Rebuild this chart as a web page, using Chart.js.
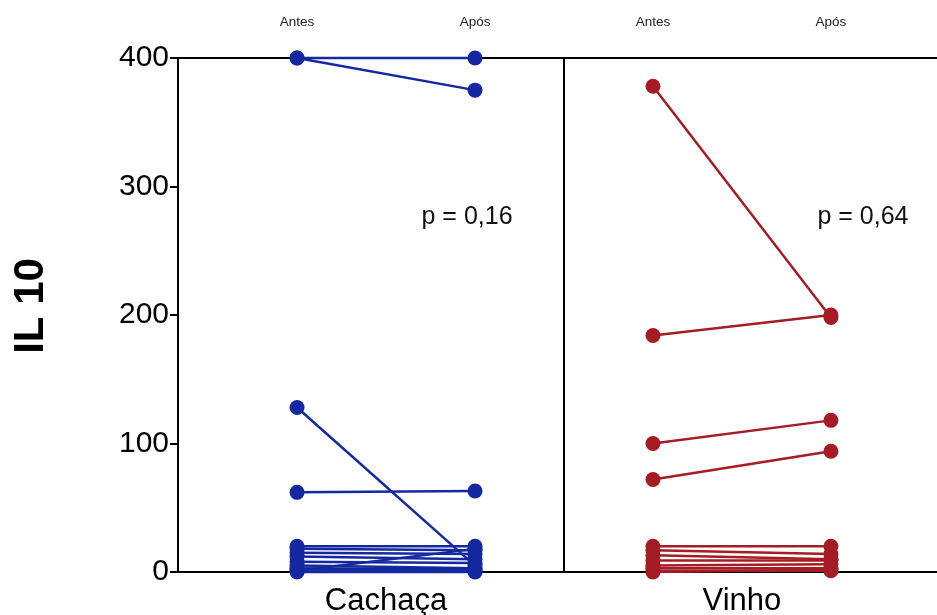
<!DOCTYPE html>
<html>
<head>
<meta charset="utf-8">
<script src="https://cdn.jsdelivr.net/npm/chart.js@4"></script>
<style>
  html, body { margin: 0; padding: 0; background: #fff; }
  #wrap { width: 937px; height: 615px; }
</style>
</head>
<body>
<div id="wrap"><canvas id="chart"></canvas></div>
<script>
const groups = ["Cachaça", "Vinho"];
const timeLabels = ["Antes", "Após"];
const pValues = ["p = 0,16", "p = 0,64"];
const yTicks = [0, 100, 200, 300, 400];
const yTitle = "IL 10";

// paired values
const cachacaAntes = [400, 400, 128, 62, 20, 18, 15, 12, 8, 5, 3, 1, 0, 2];
const cachacaApos = [400, 375, 5, 63, 20, 17, 14, 10, 7, 3, 2, 18, 0, 1];
const vinhoAntes = [378, 184, 100, 72, 20, 17, 13, 9, 5, 3, 1, 0];
const vinhoApos = [198, 200, 118, 94, 20, 14, 10, 9, 6, 3, 1, 2];

const blue = "#1428a0";
const red = "#a51c24";
const font = "'Liberation Sans', Arial, sans-serif";

function pairDatasets(antes, apos, xStart, color) {
  return antes.map((a, i) => ({
    data: [{ x: xStart, y: a }, { x: xStart + 1, y: apos[i] }],
    showLine: true,
    borderColor: color,
    backgroundColor: color,
    borderWidth: 2.5,
    pointRadius: 7.5,
    pointBorderWidth: 0,
    clip: false,
  }));
}

const datasets = [
  ...pairDatasets(cachacaAntes, cachacaApos, 1, blue),
  ...pairDatasets(vinhoAntes, vinhoApos, 3, red),
];

const extras = {
  id: "extras",
  beforeDatasetsDraw(chart) {
    const { ctx, chartArea, scales } = chart;
    const xd = scales.x.getPixelForValue(2.5);
    ctx.save();
    ctx.strokeStyle = "#000";
    ctx.lineWidth = 2;
    ctx.beginPath();
    ctx.moveTo(xd, chartArea.top);
    ctx.lineTo(xd, chartArea.bottom);
    ctx.stroke();
    ctx.restore();
  },
  afterDraw(chart) {
    const { ctx, scales } = chart;
    ctx.save();
    ctx.fillStyle = "#111";
    ctx.font = "25px " + font;
    ctx.textAlign = "center";
    ctx.textBaseline = "middle";
    ctx.fillText(pValues[0], scales.x.getPixelForValue(1.955), scales.y.getPixelForValue(276));
    ctx.fillText(pValues[1], scales.x.getPixelForValue(4.18), scales.y.getPixelForValue(276));

    // y axis title
    ctx.fillStyle = "#000";
    ctx.font = "bold 42px " + font;
    ctx.translate(31, scales.y.getPixelForValue(207));
    ctx.rotate(-Math.PI / 2);
    ctx.fillText(yTitle, 0, 0);
    ctx.restore();
  },
};

new Chart(document.getElementById("chart"), {
  type: "scatter",
  data: { datasets },
  plugins: [extras],
  options: {
    responsive: true,
    maintainAspectRatio: false,
    animation: false,
    layout: { padding: 0, autoPadding: false },
    plugins: { legend: { display: false }, tooltip: { enabled: false } },
    scales: {
      x: {
        type: "linear",
        position: "bottom",
        min: 0.331,
        max: 4.596,
        afterBuildTicks: (s) => { s.ticks = [{ value: 1.5 }, { value: 3.5 }]; },
        afterFit: (s) => { s.height = 43; },
        ticks: {
          autoSkip: false,
          maxRotation: 0,
          padding: 3,
          color: "#000",
          font: { family: font, size: 31 },
          callback: (v) => (v === 1.5 ? groups[0] : groups[1]),
        },
        grid: { display: false },
        border: { display: true, color: "#000", width: 2 },
      },
      x2: {
        type: "linear",
        position: "top",
        min: 0.331,
        max: 4.596,
        afterBuildTicks: (s) => { s.ticks = [1, 2, 3, 4].map((v) => ({ value: v })); },
        afterFit: (s) => { s.height = 58; },
        ticks: {
          autoSkip: false,
          maxRotation: 0,
          padding: 20,
          color: "#222",
          font: { family: font, size: 13.5 },
          callback: (v) => timeLabels[(v - 1) % 2],
        },
        grid: { display: false },
        border: { display: true, color: "#000", width: 2 },
      },
      y: {
        min: 0,
        max: 400,
        afterBuildTicks: (s) => { s.ticks = yTicks.map((v) => ({ value: v })); },
        afterFit: (s) => { s.width = 178; },
        ticks: {
          padding: 1,
          color: "#000",
          font: { family: font, size: 30 },
        },
        grid: {
          drawOnChartArea: false,
          drawTicks: true,
          tickLength: 8,
          color: "#000",
          lineWidth: 2,
        },
        border: { display: true, color: "#000", width: 2 },
      },
    },
  },
});
</script>
</body>
</html>
